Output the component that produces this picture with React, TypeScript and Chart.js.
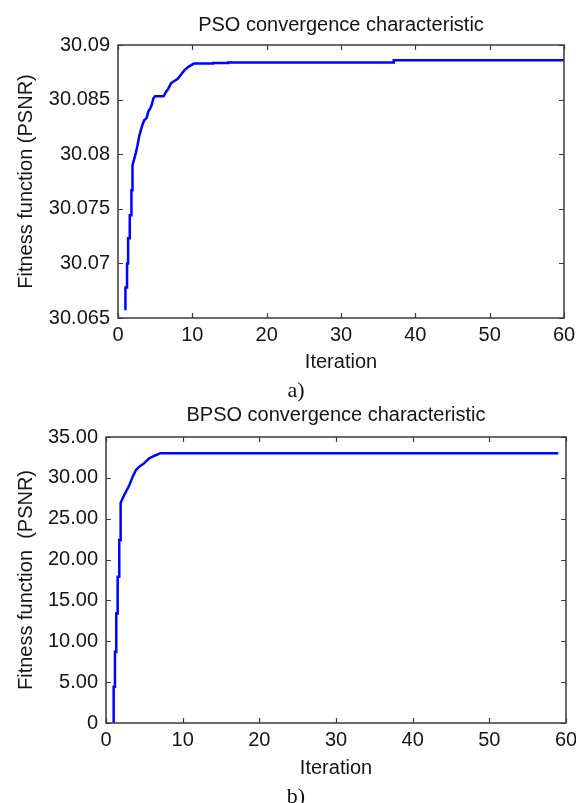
import React, { useEffect, useRef } from "react";
import { Chart, registerables } from "chart.js";

Chart.register(...registerables);

// ---------- data ----------
const psoIter = [1, 1, 1.22, 1.22, 1.36, 1.36, 1.58, 1.58, 1.81, 1.81, 1.95, 1.95, 2.16, 2.39, 2.62, 2.84, 3.07, 3.3, 3.52, 3.85, 4.07, 4.34, 4.53, 4.75, 4.99, 6.14, 6.45, 6.77, 7.14, 7.58, 8.04, 8.49, 8.94, 9.48, 10.2, 12.8, 12.8, 14.8, 14.8, 37.1, 37.1, 60];
const psoFitness = [30.0657, 30.0678, 30.0678, 30.07, 30.07, 30.0723, 30.0723, 30.0744, 30.0744, 30.0767, 30.0767, 30.079, 30.0795, 30.0801, 30.0808, 30.0816, 30.0822, 30.0827, 30.0831, 30.0833, 30.0839, 30.0842, 30.0845, 30.0851, 30.0853, 30.0853, 30.0857, 30.086, 30.0865, 30.0867, 30.0869, 30.0873, 30.0877, 30.088, 30.0883, 30.0883, 30.08835, 30.08835, 30.0884, 30.0884, 30.0886, 30.0886];

const bpsoIter = [1, 1, 1.17, 1.17, 1.34, 1.34, 1.52, 1.52, 1.73, 1.73, 1.91, 1.91, 2.38, 3.04, 3.48, 3.91, 4.34, 4.99, 5.64, 6.29, 7.08, 59];
const bpsoFitness = [0, 4.44, 4.44, 8.73, 8.73, 13.4, 13.4, 17.9, 17.9, 22.4, 22.4, 26.96, 27.9, 29.1, 30.15, 30.97, 31.37, 31.8, 32.4, 32.7, 33.0, 33.0];

const xTicks = [0, 10, 20, 30, 40, 50, 60];
const xTickLabels = ["0", "10", "20", "30", "40", "50", "60"];

const psoYTicks = [30.065, 30.07, 30.075, 30.08, 30.085, 30.09];
const psoYTickLabels = ["30.065", "30.07", "30.075", "30.08", "30.085", "30.09"];

const bpsoYTicks = [0, 5, 10, 15, 20, 25, 30, 35];
const bpsoYTickLabels = ["0", "5.00", "10.00", "15.00", "20.00", "25.00", "30.00", "35.00"];

const psoTitle = "PSO convergence characteristic";
const bpsoTitle = "BPSO convergence characteristic";
const xTitle = "Iteration";
const psoYTitle = "Fitness function (PSNR)";
const bpsoYTitle = "Fitness function  (PSNR)";

// ---------- styling ----------
const FONT = "'Liberation Sans', Arial, Helvetica, sans-serif";
const TEXT = "#151515";

const frameTicks = {
  id: "frameTicks",
  afterDatasetsDraw(chart: any) {
    const { ctx, chartArea: a, scales } = chart;
    ctx.save();
    ctx.strokeStyle = "#3a3a3a";
    ctx.lineWidth = 1.5;
    ctx.strokeRect(a.left, a.top, a.right - a.left, a.bottom - a.top);
    const L = 5;
    ctx.beginPath();
    scales.x.ticks.forEach((t: any) => {
      const px = Math.round(scales.x.getPixelForValue(t.value)) + 0.5;
      ctx.moveTo(px, a.bottom);
      ctx.lineTo(px, a.bottom - L);
      ctx.moveTo(px, a.top);
      ctx.lineTo(px, a.top + L);
    });
    scales.y.ticks.forEach((t: any) => {
      const py = Math.round(scales.y.getPixelForValue(t.value)) + 0.5;
      ctx.moveTo(a.left, py);
      ctx.lineTo(a.left + L, py);
      ctx.moveTo(a.right, py);
      ctx.lineTo(a.right - L, py);
    });
    ctx.lineWidth = 1.2;
    ctx.stroke();
    ctx.restore();
  },
};

type Cfg = {
  xs: number[];
  ys: number[];
  title: string;
  yTitle: string;
  yTicks: number[];
  yTickLabels: string[];
  yMin: number;
  yMax: number;
  titlePad: { top: number; bottom: number };
  rightPad: number;
  yWidth: number;
  xHeight: number;
  xTitlePadBottom: number;
};

function makeConfig(c: Cfg): any {
  const font = { family: FONT, size: 20, lineHeight: 1.2 };
  return {
    type: "line",
    data: {
      datasets: [
        {
          data: c.xs.map((x, i) => ({ x, y: c.ys[i] })),
          borderColor: "#0000ff",
          borderWidth: 2.5,
          pointRadius: 0,
          tension: 0,
          fill: false,
        },
      ],
    },
    options: {
      animation: false,
      responsive: false,
      events: [],
      layout: { padding: { left: 0, right: c.rightPad, top: 0, bottom: 0 } },
      plugins: {
        legend: { display: false },
        tooltip: { enabled: false },
        title: {
          display: true,
          text: c.title,
          fullSize: false,
          color: TEXT,
          font: { family: FONT, size: 20, weight: "normal", lineHeight: 1.2 },
          padding: c.titlePad,
        },
      },
      scales: {
        x: {
          type: "linear",
          min: 0,
          max: 60,
          grid: { display: false, drawTicks: false },
          border: { display: false },
          afterBuildTicks: (s: any) => {
            s.ticks = xTicks.map((v) => ({ value: v }));
          },
          afterFit: (s: any) => {
            s.height = c.xHeight;
            s.paddingLeft = 0;
            s.paddingRight = 0;
          },
          ticks: {
            color: TEXT,
            font,
            padding: 5,
            maxRotation: 0,
            autoSkip: false,
            callback: (v: number) => xTickLabels[xTicks.indexOf(v)],
          },
          title: {
            display: true,
            text: xTitle,
            color: TEXT,
            font,
            padding: { top: 0, bottom: c.xTitlePadBottom },
          },
        },
        y: {
          type: "linear",
          min: c.yMin,
          max: c.yMax,
          grid: { display: false, drawTicks: false },
          border: { display: false },
          afterBuildTicks: (s: any) => {
            s.ticks = c.yTicks.map((v) => ({ value: v }));
          },
          afterFit: (s: any) => {
            s.width = c.yWidth;
            s.paddingTop = 0;
            s.paddingBottom = 0;
          },
          ticks: {
            color: TEXT,
            font,
            padding: 8,
            autoSkip: false,
            callback: (v: number) => c.yTickLabels[c.yTicks.indexOf(v)],
          },
          title: {
            display: true,
            text: c.yTitle,
            color: TEXT,
            font,
            padding: { top: 14, bottom: 0 },
          },
        },
      },
    },
    plugins: [frameTicks],
  };
}

function ChartCanvas({ cfg, width, height, top }: { cfg: Cfg; width: number; height: number; top: number }) {
  const ref = useRef<HTMLCanvasElement | null>(null);
  useEffect(() => {
    if (!ref.current) return;
    const chart = new Chart(ref.current, makeConfig(cfg));
    return () => chart.destroy();
  }, []);
  return (
    <canvas
      ref={ref}
      width={width}
      height={height}
      style={{ position: "absolute", left: 0, top, width, height, display: "block" }}
    />
  );
}

const caption: React.CSSProperties = {
  position: "absolute",
  left: 196,
  width: 200,
  textAlign: "center",
  fontFamily: "'Liberation Serif', 'Times New Roman', Times, serif",
  fontSize: 22,
  lineHeight: "24px",
  color: "#111",
};

export default function App() {
  const cfgA: Cfg = {
    xs: psoIter,
    ys: psoFitness,
    title: psoTitle,
    yTitle: psoYTitle,
    yTicks: psoYTicks,
    yTickLabels: psoYTickLabels,
    yMin: 30.065,
    yMax: 30.09,
    titlePad: { top: 13, bottom: 8 },
    rightPad: 12,
    yWidth: 118,
    xHeight: 82,
    xTitlePadBottom: 26,
  };
  const cfgB: Cfg = {
    xs: bpsoIter,
    ys: bpsoFitness,
    title: bpsoTitle,
    yTitle: bpsoYTitle,
    yTicks: bpsoYTicks,
    yTickLabels: bpsoYTickLabels,
    yMin: 0,
    yMax: 35,
    titlePad: { top: 3, bottom: 10 },
    rightPad: 10,
    yWidth: 106,
    xHeight: 80,
    xTitlePadBottom: 23,
  };
  return (
    <div style={{ position: "absolute", left: 0, top: 0, width: 576, height: 803, background: "#fff", overflow: "hidden" }}>
      <ChartCanvas cfg={cfgA} width={576} height={400} top={0} />
      <div style={{ ...caption, top: 378 }}>a)</div>
      <ChartCanvas cfg={cfgB} width={576} height={403} top={400} />
      <div style={{ ...caption, top: 784 }}>b)</div>
    </div>
  );
}
